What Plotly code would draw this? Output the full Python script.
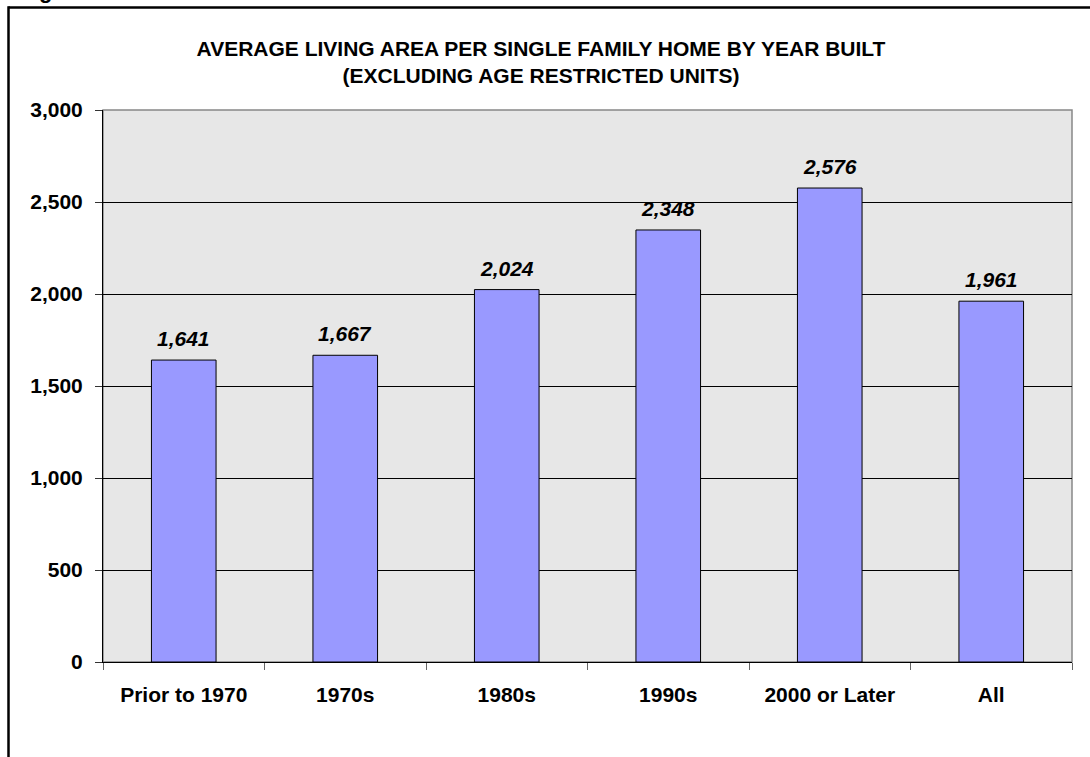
import plotly.graph_objects as go

categories = ["Prior to 1970", "1970s", "1980s", "1990s", "2000 or Later", "All"]
values = [1641, 1667, 2024, 2348, 2576, 1961]
y_ticks = [0, 500, 1000, 1500, 2000, 2500, 3000]
y_tick_labels = ["0", "500", "1,000", "1,500", "2,000", "2,500", "3,000"]

W, H = 1090, 757
PL, PR, PT, PB = 103, 1072, 110, 662  # plot area in page pixels
L, T = PL, PT
R, B = W - PR, H - PB
pw, ph = W - L - R, H - T - B

def px_x(p):  # page pixel -> paper x
    return (p - L) / pw

def px_y(p):  # page pixel -> paper y
    return (H - B - p) / ph

FONT = "Liberation Sans, Arial, sans-serif"

fig = go.Figure(go.Bar(
    x=categories, y=values,
    marker=dict(color="#9999FF", line=dict(color="black", width=1)),
    hoverinfo="x+y",
))

annotations = [
    dict(x=c, y=v, xref="x", yref="y", text="<b><i>%s</i></b>" % f"{v:,}",
         showarrow=False, yanchor="bottom", xanchor="center", yshift=8,
         font=dict(family=FONT, size=21, color="black"))
    for c, v in zip(categories, values)
]
annotations.append(
    dict(text="<b>g</b>", xref="paper", yref="paper",
         x=px_x(45), y=px_y(5), xanchor="center", yanchor="bottom",
         showarrow=False, font=dict(family=FONT, size=22, color="black"))
)

fig.update_layout(
    width=W, height=H,
    margin=dict(l=L, r=R, t=T, b=B, autoexpand=False),
    paper_bgcolor="white",
    plot_bgcolor="#e7e7e7",
    bargap=0.6,
    showlegend=False,
    font=dict(family=FONT, color="black"),
    title=dict(
        text="<b>AVERAGE LIVING AREA PER SINGLE FAMILY HOME BY YEAR BUILT<br>(EXCLUDING AGE RESTRICTED UNITS)</b>",
        x=px_x(541), xref="paper", xanchor="center",
        y=1 - 56 / H, yanchor="middle",
        font=dict(family=FONT, size=21, color="black"),
    ),
    xaxis=dict(
        type="category",
        showline=True, linecolor="black", linewidth=1,
        ticks="outside", tickson="boundaries", ticklen=7, tickcolor="#666666",
        tickfont=dict(family=FONT, size=21, color="black"),
        ticklabelstandoff=14,
        showgrid=False,
        tickprefix="<b>", ticksuffix="</b>",
    ),
    yaxis=dict(
        range=[0, 3000],
        tickvals=y_ticks, ticktext=["<b>%s</b>" % t for t in y_tick_labels],
        showline=True, linecolor="black", linewidth=1,
        ticks="outside", ticklen=7, tickcolor="#333333",
        tickfont=dict(family=FONT, size=21, color="black"),
        ticklabelstandoff=8,
        showgrid=True, gridcolor="black", gridwidth=1,
        zeroline=False,
    ),
    shapes=[
        dict(type="rect", xref="paper", yref="paper", x0=0, x1=1, y0=0, y1=1,
             line=dict(color="#888888", width=1.5), layer="below"),
        dict(type="line", xref="paper", yref="paper",
             x0=px_x(8.5), x1=px_x(1300), y0=px_y(7.5), y1=px_y(7.5),
             line=dict(color="black", width=2.5)),
        dict(type="line", xref="paper", yref="paper",
             x0=px_x(8.5), x1=px_x(8.5), y0=px_y(1000), y1=px_y(6.25),
             line=dict(color="black", width=2.5)),
    ],
    annotations=annotations,
)

fig.write_html(
    "out.html",
    config={"displayModeBar": False},
    post_script="document.body.style.margin='0';document.body.style.overflow='hidden';",
)
